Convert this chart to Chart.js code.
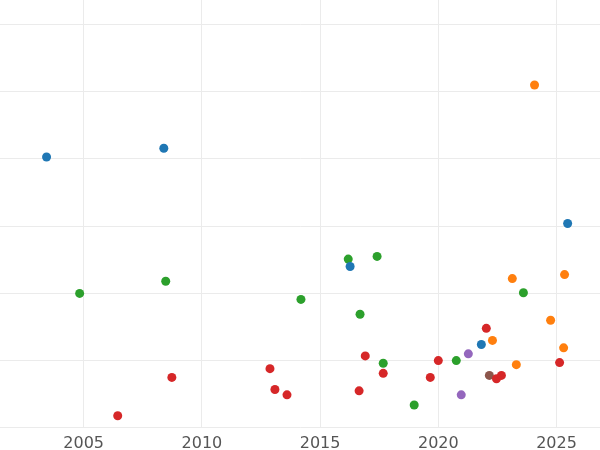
<!DOCTYPE html>
<html><head><meta charset="utf-8">
<script src="https://cdn.jsdelivr.net/npm/chart.js@4/dist/chart.umd.min.js"></script>
<style>html,body{margin:0;padding:0;background:#fff;overflow:hidden;width:600px;height:450px}#w{position:absolute;left:-5px;top:-5px;width:610px;height:464px}</style>
</head><body><div id="w"><canvas id="c"></canvas></div>
<script>
const seriesNames=["blue","orange","green","red","purple","brown"];
const seriesColors=["#1f77b4","#ff7f0e","#2ca02c","#d62728","#9467bd","#8c564b"];
const xBlue=[2003.43,2008.39,2016.27,2021.82,2025.47];
const yBlue=[4.03,4.16,2.40,1.24,3.04];
const xOrange=[2024.07,2023.13,2025.34,2024.75,2022.29,2025.30,2023.30];
const yOrange=[5.10,2.22,2.28,1.60,1.30,1.19,0.94];
const xGreen=[2004.83,2008.47,2014.19,2016.19,2017.41,2016.69,2017.67,2018.98,2020.76,2023.60];
const yGreen=[2.0,2.18,1.91,2.51,2.55,1.69,0.96,0.34,1.0,2.01];
const xRed=[2006.44,2008.73,2012.88,2013.09,2013.60,2016.65,2016.91,2017.67,2019.66,2020.0,2022.03,2022.46,2022.67,2025.13];
const yRed=[0.18,0.75,0.88,0.57,0.49,0.55,1.07,0.81,0.75,1.0,1.48,0.73,0.78,0.97];
const xPurple=[2021.27,2020.97];
const yPurple=[1.10,0.49];
const xBrown=[2022.16];
const yBrown=[0.78];
const xs=[xBlue,xOrange,xGreen,xRed,xPurple,xBrown];
const ys=[yBlue,yOrange,yGreen,yRed,yPurple,yBrown];
const xTicks=[2005,2010,2015,2020,2025];
new Chart(document.getElementById('c'),{
 type:'scatter',
 data:{datasets:seriesNames.map((n,i)=>({label:n,data:xs[i].map((x,j)=>({x:x,y:ys[i][j]})),backgroundColor:seriesColors[i],borderColor:seriesColors[i],pointRadius:4.5,borderWidth:0}))},
 options:{responsive:true,maintainAspectRatio:false,animation:false,
  layout:{padding:0},
  plugins:{legend:{display:false},tooltip:{enabled:false}},
  scales:{
   x:{type:'linear',min:2001.44,max:2026.86,
      afterBuildTicks:s=>{s.ticks=xTicks.map(v=>({value:v}));},
      grid:{color:'#ebebeb',drawTicks:false},border:{display:false},
      ticks:{color:'#555',font:{family:'DejaVu Sans',size:16},padding:6,callback:v=>String(v)}},
   y:{min:0,max:6.373,afterFit:s=>{s.width=0;},
      afterBuildTicks:s=>{s.ticks=[0,1,2,3,4,5,6].map(v=>({value:v}));},
      grid:{color:'#ebebeb',drawTicks:false},border:{display:false},
      ticks:{display:false}}
  }}
});
</script></body></html>
